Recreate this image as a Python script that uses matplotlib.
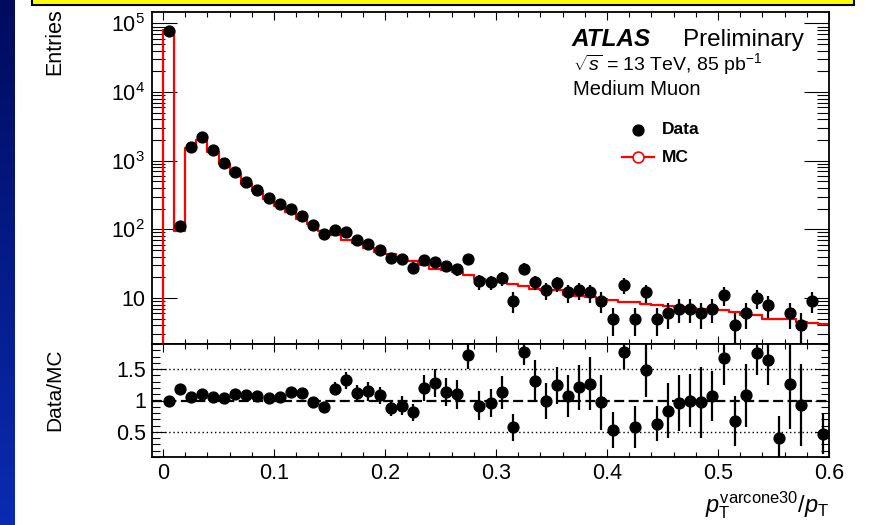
import numpy as np
import matplotlib
matplotlib.use('Agg')
import matplotlib.pyplot as plt
from matplotlib.ticker import FixedLocator, FixedFormatter, MultipleLocator, LogLocator, NullFormatter
from matplotlib.patches import Rectangle

plt.rcParams['font.family'] = ['Liberation Sans', 'DejaVu Sans']
plt.rcParams['mathtext.fontset'] = 'custom'
plt.rcParams['mathtext.rm'] = 'Liberation Sans'
plt.rcParams['mathtext.it'] = 'Liberation Sans:italic'
plt.rcParams['mathtext.bf'] = 'Liberation Sans:bold'

# bins of p_T^varcone30 / p_T, width 0.01
edges = np.round(np.arange(0, 0.61, 0.01), 3)
centers = (edges[:-1] + edges[1:]) / 2

data = [78500, 112, 1600, 2190, 1410, 925, 695, 497, 380, 290,
        232, 200, 157, 114, 85, 99, 91, 70, 61, 50,
        38, 36.5, 27.6, 36, 33.8, 29, 26, 36.5, 17.4, 17,
        19.5, 9.1, 26.6, 17, 13.1, 16.3, 12, 13.1, 12, 9.1,
        5, 15.4, 5, 12, 5, 6, 7, 7, 6, 7,
        11, 4, 6, 10, 8, 2, 6, 4, 9, 2]

mc = [80000, 95, 1520, 2000, 1330, 890, 640, 465, 358, 279,
      221, 177, 141, 118, 95, 84, 69, 63, 54, 47,
      43, 40, 34, 30, 26.6, 25.7, 23.9, 21.3, 19.1, 17.7,
      17.3, 16, 15, 13.5, 13.2, 13.1, 11.2, 10.8, 10.2, 9.8,
      9.4, 8.7, 8.6, 8.1, 7.9, 7.5, 7.3, 7.2, 7.0, 6.9,
      6.7, 6.2, 5.7, 5.6, 5.0, 4.9, 4.9, 4.4, 4.3, 4.2]

ratio = [0.99, 1.18, 1.06, 1.10, 1.06, 1.04, 1.10, 1.08, 1.07, 1.04,
         1.06, 1.13, 1.12, 0.98, 0.90, 1.19, 1.32, 1.12, 1.15, 1.08,
         0.88, 0.92, 0.81, 1.20, 1.28, 1.14, 1.10, 1.72, 0.92, 0.96,
         1.13, 0.57, 1.78, 1.31, 0.99, 1.24, 1.07, 1.21, 1.27, 0.97,
         0.53, 1.78, 0.58, 1.49, 0.63, 0.84, 0.96, 1.00, 0.97, 1.07,
         1.67, 0.67, 1.08, 1.75, 1.65, 0.40, 1.26, 0.93, 2.10, 0.47]

ratio_err = [0.01, 0.07, 0.02, 0.02, 0.02, 0.02, 0.02, 0.02, 0.02, 0.02,
             0.03, 0.03, 0.03, 0.04, 0.05, 0.10, 0.13, 0.13, 0.15, 0.14,
             0.13, 0.15, 0.14, 0.20, 0.22, 0.22, 0.23, 0.22, 0.23, 0.23,
             0.26, 0.22, 0.22, 0.33, 0.29, 0.30, 0.33, 0.36, 0.42, 0.44,
             0.28, 0.28, 0.34, 0.44, 0.28, 0.44, 0.45, 0.43, 0.56, 0.40,
             0.42, 0.40, 0.50, 0.34, 0.41, 0.35, 0.72, 0.65, 0.70, 0.33]

data = np.array(data)
mc = np.array(mc)
ratio = np.array(ratio)
ratio_err = np.array(ratio_err)

ymin, ymax = 2.13, 1.47e5
rmin, rmax = 0.1, 1.9

fig = plt.figure(figsize=(8.7, 5.25), dpi=100)

# slide decoration: blue strip and yellow title box
strip = fig.add_axes([0, 0, 15 / 870, 1])
grad = np.linspace(0, 1, 256).reshape(-1, 1)
strip.imshow(grad, aspect='auto', cmap=matplotlib.colors.LinearSegmentedColormap.from_list(
    'bl', ['#000b5e', '#0a2bb2']), origin='upper')
strip.axis('off')
fig.patches.append(Rectangle((32 / 870, 1 - 5 / 525), 822 / 870, 0.03, transform=fig.transFigure,
                             facecolor='#ffff00', edgecolor='black', lw=1.5, clip_on=False))

ax1 = fig.add_axes([152 / 870, 1 - 344 / 525, 677 / 870, 332 / 525])
ax2 = fig.add_axes([152 / 870, 1 - 457 / 525, 677 / 870, 113 / 525])

# MC histogram outline
ax1.step(np.r_[edges[0], edges], np.r_[1e-3, mc, mc[-1]], where='post', color='#ff0000', lw=1.6)
# data points with Poisson errors
vis = data > ymin
ax1.errorbar(centers[vis], data[vis], yerr=np.sqrt(data[vis]), fmt='o', ms=7.8, color='black',
             elinewidth=1.6, capsize=0)
ax1.set_yscale('log')
ax1.set_xlim(-0.01, 0.6)
ax1.set_ylim(ymin, ymax)
ax1.yaxis.set_major_locator(FixedLocator([10, 1e2, 1e3, 1e4, 1e5]))
ax1.yaxis.set_major_formatter(FixedFormatter(['10', r'$10^{2}$', r'$10^{3}$', r'$10^{4}$', r'$10^{5}$']))
ax1.yaxis.set_minor_locator(LogLocator(base=10, subs=np.arange(2, 10)))
ax1.yaxis.set_minor_formatter(NullFormatter())
ax1.tick_params(axis='x', labelbottom=False)

# ratio panel
ax2.axhline(1, color='black', lw=1.6, ls=(0, (4.5, 2)))
ax2.axhline(0.5, color='black', lw=1, ls=(0, (1, 2)))
ax2.axhline(1.5, color='black', lw=1, ls=(0, (1, 2)))
rvis = (ratio > rmin) & (ratio < rmax)
ax2.errorbar(centers[rvis], ratio[rvis], yerr=ratio_err[rvis], fmt='o', ms=7.8, color='black',
             elinewidth=1.6, capsize=0)
ax2.set_xlim(-0.01, 0.6)
ax2.set_ylim(rmin, rmax)
ax2.yaxis.set_major_locator(FixedLocator([0.5, 1, 1.5]))
ax2.yaxis.set_major_formatter(FixedFormatter(['0.5', '1', '1.5']))
ax2.yaxis.set_minor_locator(MultipleLocator(0.1))
ax2.xaxis.set_major_formatter(FixedFormatter(['0', '0.1', '0.2', '0.3', '0.4', '0.5', '0.6']))

for ax in (ax1, ax2):
    ax.xaxis.set_major_locator(FixedLocator([0, 0.1, 0.2, 0.3, 0.4, 0.5, 0.6]))
    ax.xaxis.set_minor_locator(MultipleLocator(0.02))
    ax.tick_params(which='both', direction='in', top=True, right=True, width=0.8, labelsize=15.5)
    ax.tick_params(axis='x', which='major', length=6, pad=4)
    ax.tick_params(axis='x', which='minor', length=3.5)
    for s in ax.spines.values():
        s.set_linewidth(1.3)
ax1.tick_params(axis='y', which='major', length=18, pad=5)
ax1.tick_params(axis='y', which='minor', length=9)
ax2.tick_params(axis='y', which='major', length=10, pad=4)
ax2.tick_params(axis='y', which='minor', length=5.5)

# labels
fig.text(55 / 870, 1 - 8 / 525, 'Entries', rotation=90, ha='center', va='top', fontsize=15.5)
fig.text(55 / 870, 1 - 390 / 525, 'Data/MC', rotation=90, ha='center', va='center', fontsize=15)
fig.text(829 / 870, 1 - 505 / 525, r'$p_{\mathrm{T}}^{\mathrm{varcone30}}/p_{\mathrm{T}}$',
         ha='right', va='center', fontsize=17)

ax1.text(0.620, 0.917, 'ATLAS', transform=ax1.transAxes, fontsize=17.5, fontweight='bold',
         fontstyle='italic', va='center')
ax1.text(0.784, 0.917, 'Preliminary', transform=ax1.transAxes, fontsize=17.5, va='center')
ax1.text(0.622, 0.843, r'$\sqrt{s}$ = 13 TeV, 85 pb$^{\mathregular{-1}}$', transform=ax1.transAxes,
         fontsize=14, va='center')
ax1.text(0.622, 0.768, 'Medium Muon', transform=ax1.transAxes, fontsize=14.5, va='center')

# legend
ax1.plot([0.718], [0.645], 'o', ms=7.8, color='black', transform=ax1.transAxes)
ax1.text(0.753, 0.645, 'Data', transform=ax1.transAxes, fontsize=12.5, fontweight='bold', va='center')
ax1.plot([0.694, 0.742], [0.563, 0.563], '-', color='#ff0000', lw=1.6, transform=ax1.transAxes)
ax1.plot([0.718], [0.563], 'o', ms=7.8, mfc='white', mec='#ff0000', mew=1.2, transform=ax1.transAxes)
ax1.text(0.753, 0.563, 'MC', transform=ax1.transAxes, fontsize=12.5, fontweight='bold', va='center')

fig.savefig('out.png', dpi=100)
